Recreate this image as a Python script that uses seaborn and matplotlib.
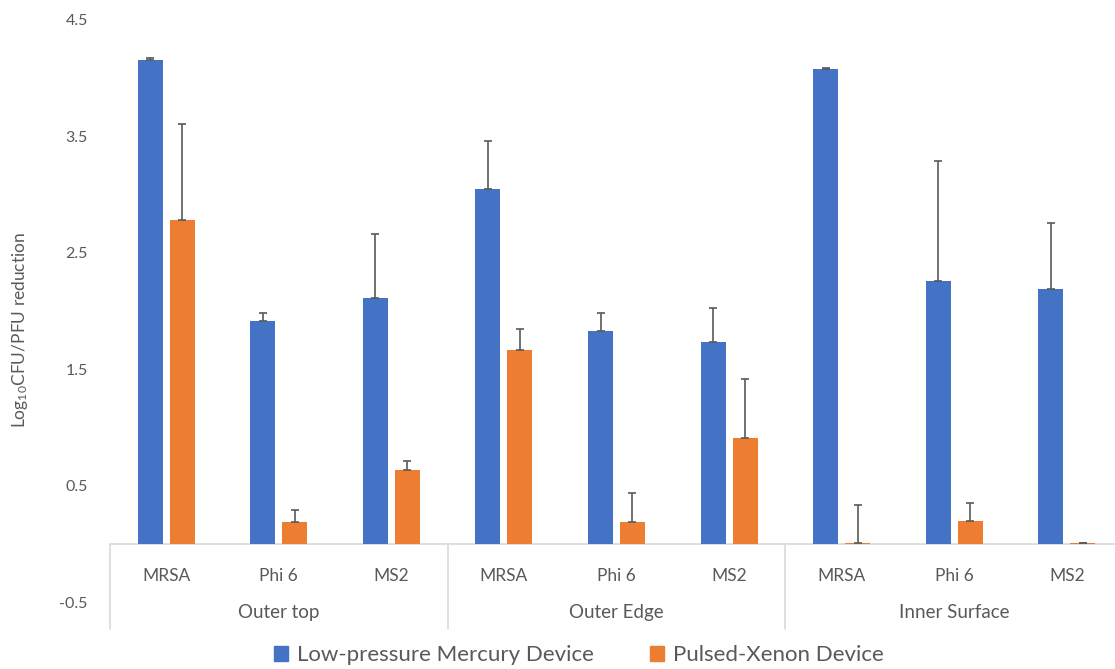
import pandas as pd
import matplotlib
matplotlib.use("Agg")
import matplotlib.pyplot as plt
import seaborn as sns
from matplotlib.patches import Patch

# data
surfaces = ["Outer top", "Outer Edge", "Inner Surface"]
organisms = ["MRSA", "Phi 6", "MS2"]
devices = ["Low-pressure Mercury Device", "Pulsed-Xenon Device"]

mercury = [4.16, 1.91, 2.11, 3.05, 1.83, 1.73, 4.08, 2.26, 2.19]
mercury_err = [0.01, 0.07, 0.55, 0.41, 0.15, 0.30, 0.01, 1.03, 0.57]
xenon = [2.78, 0.19, 0.635, 1.665, 0.19, 0.91, 0.01, 0.20, 0.01]
xenon_err = [0.83, 0.10, 0.075, 0.18, 0.25, 0.51, 0.32, 0.15, 0.0]

yticks = [-0.5, 0.5, 1.5, 2.5, 3.5, 4.5]

colors = ["#4472C4", "#ED7D31"]
grey = "#595959"

sns.set_theme(style="white")
plt.rcParams["font.family"] = ["Lato", "DejaVu Sans"]
plt.rcParams["mathtext.fontset"] = "custom"
plt.rcParams["mathtext.rm"] = "Lato"
plt.rcParams["mathtext.it"] = "Lato:italic"

keys = [f"{s}\n{o}" for s in surfaces for o in organisms]
df = pd.DataFrame({
    "key": keys * 2,
    "device": [devices[0]] * 9 + [devices[1]] * 9,
    "value": mercury + xenon,
})
errs = [mercury_err, xenon_err]

fig = plt.figure(figsize=(11.15, 6.69), dpi=100)
ax = fig.add_axes([110 / 1115, 67 / 669, 1013 / 1115, 582 / 669])

sns.barplot(data=df, x="key", y="value", hue="device", order=keys,
            hue_order=devices, palette=colors, width=0.568, gap=0.22,
            linewidth=0, saturation=1, errorbar=None, legend=False, ax=ax)

# upward-only error bars, like the Excel original
for cont, err in zip(ax.containers, errs):
    xs = [b.get_x() + b.get_width() / 2 for b in cont]
    ys = [b.get_height() for b in cont]
    ax.errorbar(xs, ys, yerr=[[0] * len(err), err], fmt="none",
                ecolor=grey, elinewidth=1.2, capsize=3, capthick=1.2, zorder=3)

ax.set_xlim(-0.5, 8.5)
ax.set_ylim(-0.5, 4.5)
ax.set_yticks(yticks)
ax.set_yticklabels([f"{t:.1f}" for t in yticks])
ax.tick_params(axis="y", length=0, pad=16, labelsize=11.5, labelcolor=grey)
ax.set_xticks([])
ax.set_xlabel("")
ax.set_ylabel("Log$_{10}$CFU/PFU reduction", fontsize=12.5, color=grey)
ax.yaxis.set_label_coords(-0.079, 0.467)
sns.despine(ax=ax, left=True, bottom=True)

# zero line and category axis drawn below it
ax.axhline(0, color="#D9D9D9", lw=1.2, zorder=0)
for i, k in enumerate(keys):
    ax.text(i, -0.275, k.split("\n")[1], ha="center", va="center",
            fontsize=12.5, color=grey)
for g, s in enumerate(surfaces):
    ax.text(g * 3 + 1, -0.59, s, ha="center", va="center",
            fontsize=13.5, color=grey, clip_on=False)
for xsep in [-0.5, 2.5, 5.5, 8.5]:
    ax.plot([xsep, xsep], [0, -0.73], color="#D9D9D9", lw=1.2, clip_on=False)

handles = [Patch(color=c) for c in colors]
fig.legend(handles, devices, loc="center", bbox_to_anchor=(0.519, 0.021),
           ncol=2, frameon=False, fontsize=16, labelcolor=grey,
           handlelength=0.65, handleheight=0.65, handletextpad=0.4,
           columnspacing=2.5)

fig.savefig("out.png", dpi=100)
